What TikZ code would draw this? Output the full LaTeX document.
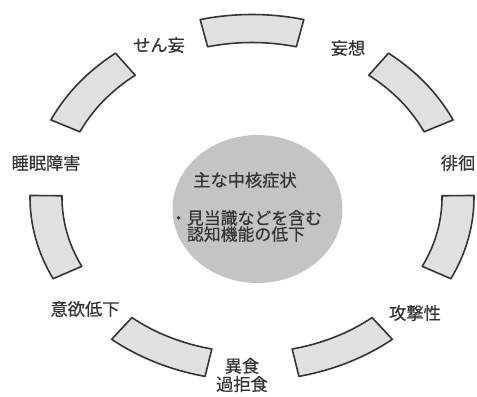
\documentclass[tikz,border=0pt]{standalone}
\usepackage{fontspec}
\newfontface\jp[FakeBold=0.5]{Noto Sans CJK JP}
\usepackage{tikz}
\usetikzlibrary{shapes.geometric}

\tikzset{
    segbox/.style={draw=black!80, fill=black!12, line width=0.9pt, line join=round},
    symlabel/.style={font=\jp\fontsize{9.8}{10.5}\selectfont, text=black!80, inner sep=0pt, align=center},
}

\begin{document}
\begin{tikzpicture}[x=0.02cm, y=0.02cm]
        \useasboundingbox (-252,197.5) rectangle (225,-198.5);
        % core symptoms in the middle
        \node[ellipse, fill=black!23, minimum width=3.4cm, minimum height=2.96cm, inner sep=0pt] (core) at (5.5,-11.5) {};
        \node[symlabel] (coretitle) at (-7,17.5) {主な中核症状};
        \node[symlabel, font=\jp\fontsize{9.6}{9.2}\selectfont] (coretext) at (-6,-28.5) {・見当識などを含む\\認知機能の低下};
        % boxes on the ring
        \foreach \t in {90,38.57,-12.86,-64.29,-115.71,-167.14,141.43} {
            \draw[segbox] ({\t-13.5}:222 and 183) arc[start angle=\t-13.5, end angle=\t+13.5, x radius=222, y radius=183]
                -- ({\t+13.5}:190 and 155) arc[start angle=\t+13.5, end angle=\t-13.5, x radius=190, y radius=155] -- cycle;
        }
        % peripheral symptoms between the boxes
        \node[symlabel] (senmou) at (-93,152.5) {せん妄};
        \node[symlabel] (mousou) at (96,149.5) {妄想};
        \node[symlabel] (haikai) at (206,34.5) {徘徊};
        \node[symlabel] (kougeki) at (163,-115.5) {攻撃性};
        \node[symlabel, font=\jp\fontsize{9.8}{10.4}\selectfont] (ishoku) at (-10,-177.5) {異食\\過拒食};
        \node[symlabel] (iyoku) at (-167,-111.5) {意欲低下};
        \node[symlabel] (suimin) at (-206,34.5) {睡眠障害};
\end{tikzpicture}
\end{document}
